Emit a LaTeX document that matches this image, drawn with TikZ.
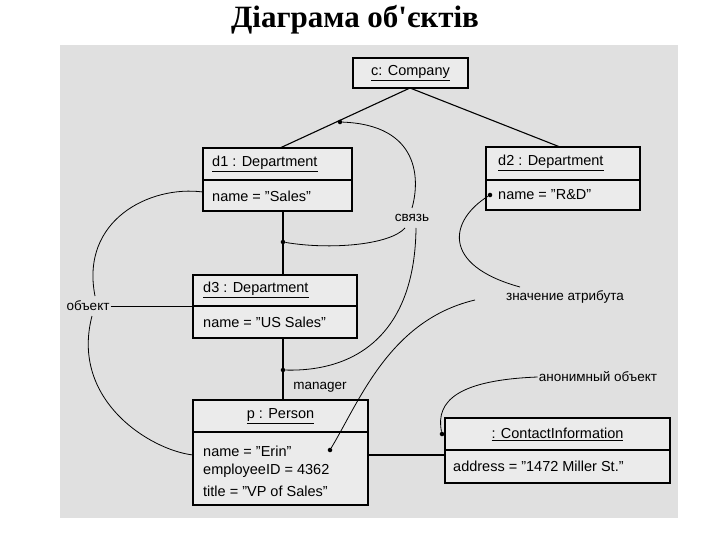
\documentclass[tikz,border=0pt]{standalone}
\usepackage{fontspec}
\setmainfont{Liberation Sans}
\newfontfamily\titlefont{Liberation Serif}
\newcommand{\qq}{\symbol{34}}
\begin{document}
\begin{tikzpicture}[x=1pt,y=-1pt,
  box/.style={draw,line width=1.1pt,fill=white!92!black},
  ln/.style={line width=1.1pt},
  cv/.style={line width=0.8pt},
  dotm/.style={circle,fill,inner sep=1.6pt},
  lab/.style={font=\fontsize{13.5}{15}\selectfont,inner sep=1pt},
  txt/.style={font=\fontsize{14.5}{16}\selectfont,anchor=west,inner sep=0pt}]
\useasboundingbox (0,0) rectangle (720,540);
\fill[white] (0,0) rectangle (720,540);
\fill[black!12] (60,45) rectangle (678,518);
\node[font=\titlefont\bfseries\fontsize{31}{34}\selectfont] (title) at (355,20) {Діаграма об'єктів};
% boxes
\draw[box] (353,58) rectangle (468,88);
\node[txt,anchor=center] (c) at (410.5,73) {\underline{c: Company}};
\draw[box] (203,148) rectangle (352,211); \draw[ln] (203,180)--(352,180);
\node[txt] (d1) at (212,164) {\underline{d1 : Department}};
\node[txt] (d1a) at (212,196) {name = \qq Sales\qq};
\draw[box] (486,147) rectangle (640,210); \draw[ln] (486,180)--(640,180);
\node[txt] (d2) at (498,163) {\underline{d2 : Department}};
\node[txt] (d2a) at (498,195) {name = \qq R\&D\qq};
\draw[box] (193,275) rectangle (357,338); \draw[ln] (193,306)--(357,306);
\node[txt] (d3) at (203,290) {\underline{d3 : Department}};
\node[txt] (d3a) at (203,322) {name = \qq US Sales\qq};
\draw[box] (193,400) rectangle (368,505); \draw[ln] (193,432)--(368,432);
\node[txt,anchor=center] (p) at (280.5,416) {\underline{p : Person}};
\node[txt] (pa) at (203,451) {name = \qq Erin\qq};
\node[txt] (pb) at (203,471) {employeeID = 4362};
\node[txt] (pc) at (203,491) {title = \qq VP of Sales\qq};
\draw[box] (445,418) rectangle (670,483); \draw[ln] (445,450)--(670,450);
\node[txt,anchor=center] (ci) at (557.5,434) {\underline{: ContactInformation}};
\node[txt] (cia) at (453,466) {address = \qq 1472 Miller St.\qq};
% links
\coordinate (cb) at (410,88);
\draw[ln] (cb)--(280,148);
\draw[ln] (cb)--(560,147);
\draw[ln] (283,211)--(283,275);
\draw[ln] (283,338)--(283,400);
\draw[ln] (368,455)--(445,455);
\node[dotm] (k1) at (340,122) {};
\node[dotm] (k2) at (283,242) {};
\node[dotm] (k3) at (283,370) {};
\node[dotm] (k4) at (490,195) {};
\node[dotm] (k5) at (330,450) {};
\node[dotm] (k6) at (442,434) {};
\node[lab] (mgr) at (320,387) {manager};
% annotations
\node[lab] (svyaz) at (412,218) {связь};
\draw[cv] (k1) .. controls (420,125) and (420,180) .. (412,208);
\draw[cv] (k2) .. controls (330,250) and (390,245) .. (405,228);
\draw[cv] (k3) .. controls (360,372) and (415,330) .. (416,228);
\node[lab] (obj) at (88,306) {объект};
\draw[cv] (obj.east) -- (193,306);
\draw[cv] (95,296) .. controls (80,220) and (150,185) .. (203,192);
\draw[cv] (92,316) .. controls (70,400) and (150,450) .. (193,455);
\node[lab] (zna) at (565,297) {значение атрибута};
\draw[cv] (520,287) .. controls (440,265) and (450,220) .. (k4);
\draw[cv] (475,300) .. controls (390,320) and (360,400) .. (k5);
\node[lab] (anon) at (598,377) {анонимный объект};
\draw[cv] (anon.west) .. controls (460,380) and (435,400) .. (k6);
\end{tikzpicture}
\end{document}
